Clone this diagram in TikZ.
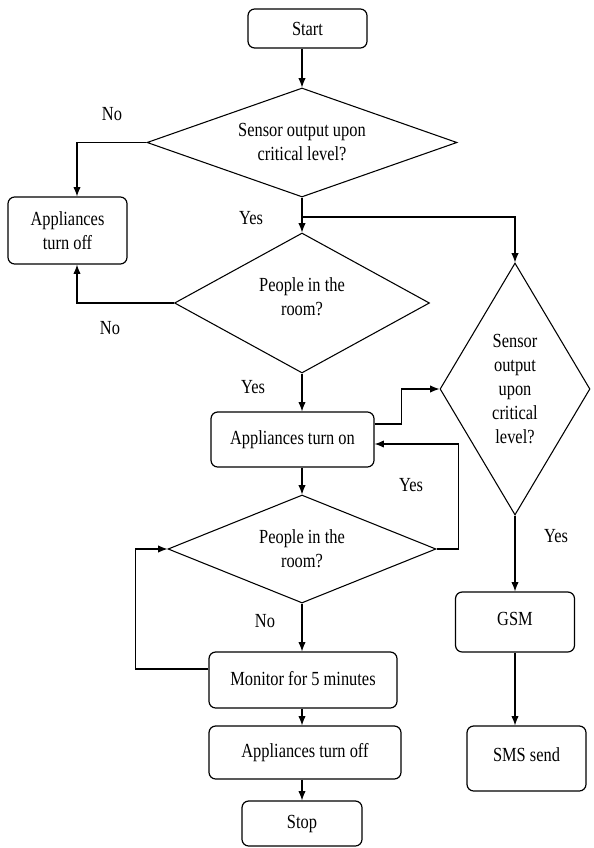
\documentclass[tikz,border=0pt]{standalone}
\usepackage{fontspec}
\setmainfont{Liberation Serif}[FakeStretch=0.82]
\usetikzlibrary{shapes.geometric,arrows.meta,calc}
\tikzset{
  px/.style={x=0.75pt,y=-0.75pt},
  every node/.style={font=\fontsize{15pt}{18pt}\selectfont},
  box/.style={draw,line width=0.9pt,rounded corners=5pt,inner sep=0pt,align=center},
  dec/.style={draw,diamond,line width=0.8pt,inner sep=0pt,align=center},
  arr/.style={line width=0.8pt,-{Latex[length=7pt,width=5.5pt]}},
  lbl/.style={inner sep=0pt}
}
\begin{document}
\begin{tikzpicture}[px]
\useasboundingbox[fill=white] (0,0) rectangle (593,848);
% boxes
\node[box,minimum width=89.25pt,minimum height=29.25pt] (start) at (307.5,28.5) {Start};
\node[box,minimum width=89.25pt,minimum height=50.25pt] (offL) at (67.5,230.5) {Appliances\\turn off};
\node[box,minimum width=122.25pt,minimum height=41.25pt] (on) at (292.5,439.5) {\raisebox{3pt}{Appliances turn on}};
\node[box,minimum width=141pt,minimum height=42pt] (mon) at (303,680) {\raisebox{3pt}{Monitor for 5 minutes}};
\node[box,minimum width=144pt,minimum height=39.75pt] (off2) at (305,752.5) {\raisebox{2pt}{Appliances turn off}};
\node[box,minimum width=90pt,minimum height=33.75pt] (stop) at (302,823.5) {\raisebox{-2pt}{Stop}};
\node[box,minimum width=89.25pt,minimum height=45pt] (gsm) at (515,622) {\raisebox{5pt}{GSM}};
\node[box,minimum width=89.25pt,minimum height=48.75pt] (sms) at (526.5,758.5) {\raisebox{6pt}{SMS send}};
% decisions
\node[dec,shape aspect=2.84,minimum width=232.5pt,minimum height=81.75pt] (d1) at (302,142.5) {Sensor output upon\\critical level?};
\node[dec,shape aspect=1.82,minimum width=191.25pt,minimum height=105pt] (d2) at (302,303) {People in the\\room?\rule[-10pt]{0pt}{0pt}};
\node[dec,shape aspect=0.6,minimum width=112.5pt,minimum height=189pt] (d3) at (515,389) {Sensor\\output\\upon\\critical\\level?};
\node[dec,shape aspect=2.48,minimum width=201pt,minimum height=81pt] (d4) at (302,549) {People in the\\room?};
% helper coordinates
\coordinate (br) at (302,217);
\coordinate (lx) at (77,230);
% connectors
\draw[arr] (start.south -| d1.north) -- (d1.north);
\draw[arr] (d1.south) -- (d2.north);
\draw[arr] (br) -| (d3.north);
\draw[arr] (d1.west) -| (lx |- offL.north);
\draw[arr] (d2.west) -| (lx |- offL.south);
\draw[arr] (d2.south) -- (d2.south |- on.north);
\draw[arr] ($(on.east)+(0,-15.5)$) -- ++(27,0) |- (d3.west);
\draw[arr] (d2.south |- on.south) -- (d4.north);
\draw[arr] (d4.east) -- ++(22,0) |- ($(on.east)+(0,4.5)$);
\draw[arr] (d4.south) -- (d4.south |- mon.north);
\draw[arr] ($(mon.west)+(0,-11)$) -- ++(-73,0) |- (d4.west);
\draw[arr] (d4.south |- mon.south) -- (d4.south |- off2.north);
\draw[arr] (d4.south |- off2.south) -- (stop.north);
\draw[arr] (d3.south) -- (gsm.north);
\draw[arr] (gsm.south) -- (gsm.south |- sms.north);
% labels
\node[lbl] (n1) at (112,114) {No};
\node[lbl] (y1) at (251,218) {Yes};
\node[lbl] (n2) at (110,328) {No};
\node[lbl] (y2) at (253,387) {Yes};
\node[lbl] (y3) at (411,485) {Yes};
\node[lbl] (y4) at (556,536) {Yes};
\node[lbl] (n3) at (265,621) {No};
\end{tikzpicture}
\end{document}
